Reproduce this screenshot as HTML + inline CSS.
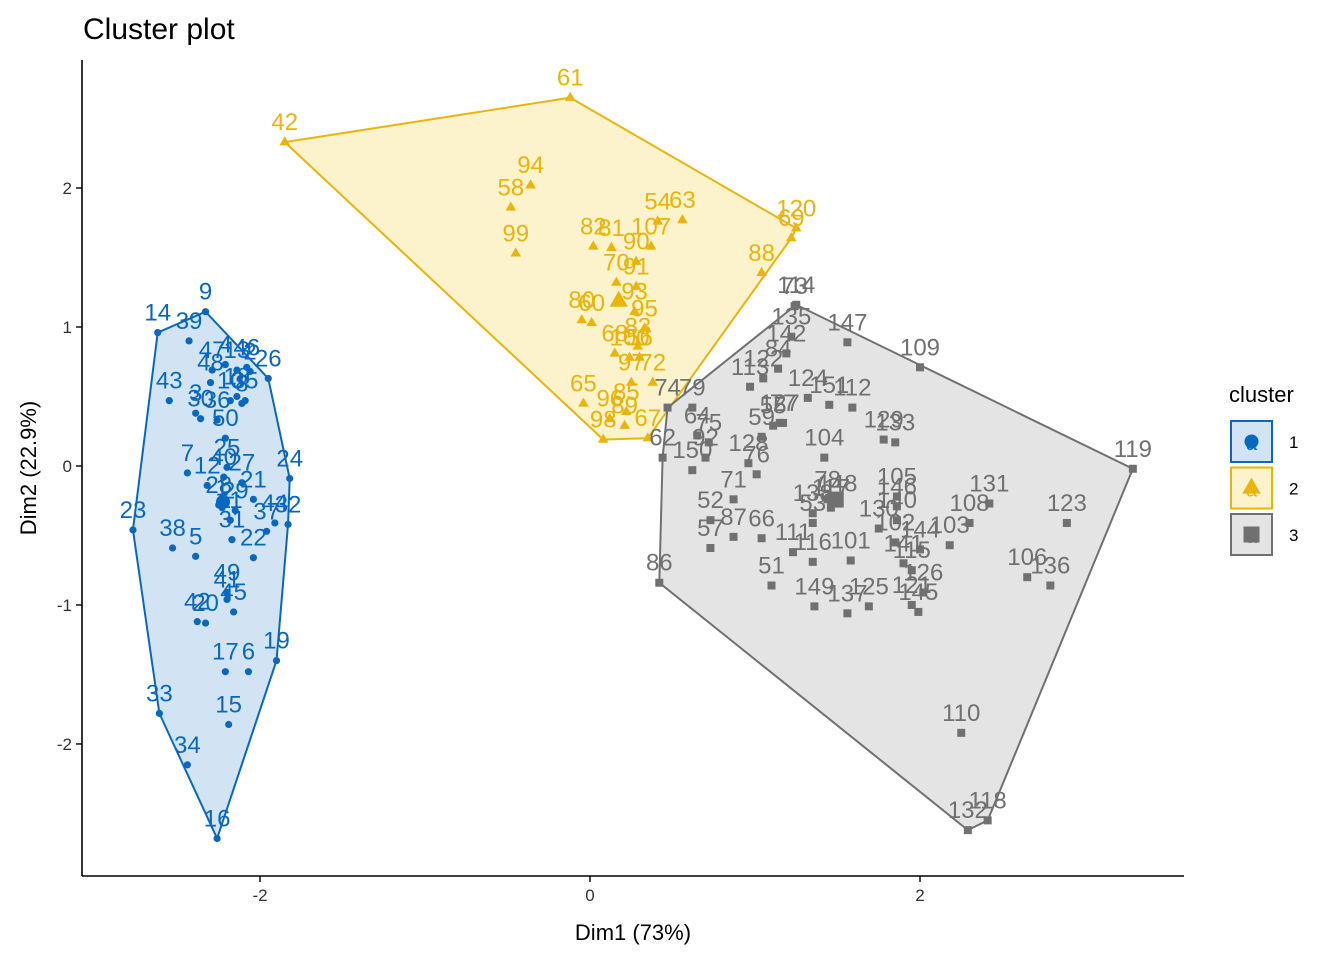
<!DOCTYPE html>
<html><head><meta charset="utf-8"><style>
body{margin:0;background:#fff;}
svg{display:block;font-family:"Liberation Sans",Arial,sans-serif;}
</style></head><body>
<svg id="chart" width="1344" height="960">
<text x="83" y="39" font-size="30" fill="#000">Cluster plot</text>
</svg>
<script>
const cluster1Labels=[1,2,3,4,5,6,7,8,9,10,11,12,13,14,15,16,17,18,19,20,21,22,23,24,25,26,27,28,29,30,31,32,33,34,35,36,37,38,39,40,41,42,43,44,45,46,47,48,49,50];
const cluster1X=[-2.23,-2.06,-2.39,-2.21,-2.39,-2.07,-2.44,-2.11,-2.33,-2.18,-2.18,-2.32,-2.14,-2.62,-2.19,-2.26,-2.21,-2.14,-1.90,-2.33,-2.04,-2.04,-2.77,-1.82,-2.20,-1.95,-2.11,-2.25,-2.15,-2.36,-2.17,-1.83,-2.61,-2.44,-2.09,-2.26,-1.96,-2.53,-2.43,-2.22,-2.20,-2.38,-2.55,-1.91,-2.16,-2.08,-2.29,-2.30,-2.20,-2.21];
const cluster1Y=[-0.30,0.68,0.38,0.73,-0.65,-1.48,-0.05,0.45,1.11,0.47,-0.39,-0.14,0.69,0.96,-1.86,-2.68,-1.48,0.50,-1.40,-1.13,-0.24,-0.66,-0.46,-0.09,-0.01,0.63,-0.12,-0.28,-0.32,0.34,-0.53,-0.42,-1.78,-2.15,0.47,0.33,-0.47,-0.59,0.90,-0.08,-0.96,-1.12,0.47,-0.41,-1.05,0.71,0.69,0.60,-0.91,0.20];
const cluster2Labels=[42,61,120,69,88,94,58,99,82,81,107,54,63,70,90,91,80,60,93,95,83,68,100,56,97,85,89,96,65,98,67,72];
const cluster2X=[-1.85,-0.12,1.25,1.22,1.04,-0.36,-0.48,-0.45,0.02,0.13,0.37,0.41,0.56,0.16,0.28,0.28,-0.05,0.01,0.27,0.33,0.29,0.15,0.24,0.30,0.25,0.22,0.21,0.12,-0.04,0.08,0.35,0.38];
const cluster2Y=[2.33,2.65,1.71,1.64,1.39,2.02,1.86,1.53,1.58,1.57,1.58,1.76,1.77,1.32,1.47,1.29,1.05,1.03,1.11,0.99,0.86,0.81,0.78,0.78,0.60,0.39,0.29,0.34,0.45,0.19,0.20,0.60];
const cluster3Labels=[114,73,147,109,119,123,131,108,106,136,110,118,132,86,62,135,142,84,122,124,151,112,129,133,113,127,55,77,104,79,74,64,75,92,150,59,128,76,71,66,87,52,57,51,53,138,78,148,117,111,116,101,149,137,125,140,146,105,102,144,141,103,126,145,121,115,130];
const cluster3X=[1.25,1.24,1.56,2.00,3.29,2.89,2.42,2.30,2.65,2.79,2.25,2.41,2.29,0.42,0.44,1.22,1.19,1.14,1.05,1.32,1.45,1.59,1.78,1.85,0.97,1.15,1.11,1.17,1.42,0.62,0.47,0.65,0.72,0.70,0.62,1.04,0.96,1.01,0.87,1.04,0.87,0.73,0.73,1.10,1.35,1.35,1.44,1.50,1.46,1.23,1.35,1.58,1.36,1.56,1.69,1.86,1.86,1.86,1.85,2.00,1.90,2.18,2.02,1.99,1.95,1.95,1.75];
const cluster3Y=[1.16,1.15,0.89,0.71,-0.02,-0.41,-0.27,-0.41,-0.80,-0.86,-1.92,-2.55,-2.62,-0.84,0.06,0.93,0.81,0.70,0.63,0.49,0.44,0.42,0.19,0.17,0.57,0.31,0.29,0.31,0.06,0.42,0.42,0.22,0.17,0.06,-0.03,0.21,0.02,-0.06,-0.24,-0.52,-0.51,-0.39,-0.59,-0.86,-0.41,-0.34,-0.24,-0.27,-0.30,-0.62,-0.69,-0.68,-1.01,-1.06,-1.01,-0.39,-0.29,-0.22,-0.55,-0.60,-0.70,-0.57,-0.91,-1.05,-1.00,-0.75,-0.45];
const xTicks=[-2,0,2];
const yTicks=[-2,-1,0,1,2];
const legendLabels=["1","2","3"];

const NS="http://www.w3.org/2000/svg";
const svg=document.getElementById('chart');
const L=82,R=1184,T=60,B=876;
const xMin=-3.0788,xMax=3.6,yMin=-2.95,yMax=2.921;
const sx=v=>L+(v-xMin)/(xMax-xMin)*(R-L);
const sy=v=>B-(v-yMin)/(yMax-yMin)*(B-T);
function mk(tag,attrs,parent){const e=document.createElementNS(NS,tag);for(const k in attrs)e.setAttribute(k,attrs[k]);(parent||svg).appendChild(e);return e;}
function hull(pts){pts=pts.slice().sort((a,b)=>a[0]-b[0]||a[1]-b[1]);const cr=(o,a,b)=>(a[0]-o[0])*(b[1]-o[1])-(a[1]-o[1])*(b[0]-o[0]);const lo=[],up=[];for(const p of pts){while(lo.length>=2&&cr(lo[lo.length-2],lo[lo.length-1],p)<=0)lo.pop();lo.push(p);}for(const p of pts.slice().reverse()){while(up.length>=2&&cr(up[up.length-2],up[up.length-1],p)<=0)up.pop();up.push(p);}return lo.slice(0,-1).concat(up.slice(0,-1));}

const clusters=[
 {labels:cluster1Labels,xs:cluster1X,ys:cluster1Y,col:"#0868C0",fill:"rgba(8,104,192,0.18)",shape:"circle"},
 {labels:cluster2Labels,xs:cluster2X,ys:cluster2Y,col:"#EBB40C",fill:"rgba(239,192,0,0.2)",shape:"tri"},
 {labels:cluster3Labels,xs:cluster3X,ys:cluster3Y,col:"#707070",fill:"rgba(120,120,120,0.2)",shape:"sq"}];

function marker(shape,x,y,s,col,g){
 let e;
 if(shape==="circle")e=mk('circle',{cx:x,cy:y,r:s,fill:col},g);
 else if(shape==="tri")e=mk('polygon',{points:`${x},${y-s*1.3} ${x-s*1.15},${y+s*0.7} ${x+s*1.15},${y+s*0.7}`,fill:col},g);
 else e=mk('rect',{x:x-s,y:y-s,width:2*s,height:2*s,fill:col},g);
 return e;
}

clusters.forEach((c,i)=>{
 const pts=c.xs.map((x,j)=>[sx(x),sy(c.ys[j])]);
 const h=hull(pts);
 const p=mk('polygon',{points:h.map(q=>q.join(',')).join(' '),fill:c.fill,stroke:c.col,'stroke-width':2});
 
 
});
clusters.forEach((c,i)=>{
 const g=mk('g',{});
 
 
 const s=c.shape==="circle"?3.6:c.shape==="tri"?4.6:4;
 c.xs.forEach((x,j)=>{
  const m=marker(c.shape,sx(x),sy(c.ys[j]),s,c.col,g);
  
  
  const t=mk('text',{x:sx(x),y:sy(c.ys[j])-12,'text-anchor':'middle','font-size':24,fill:c.col},g);
  t.textContent=c.labels[j];
  
  
 });
 const mx=c.xs.reduce((a,b)=>a+b,0)/c.xs.length,my=c.ys.reduce((a,b)=>a+b,0)/c.ys.length;
 const cm=marker(c.shape,sx(mx),sy(my),c.shape==="circle"?7:8,c.col,g);
 
 
});
const ax=mk('line',{x1:L,y1:B,x2:R,y2:B,stroke:'#000','stroke-width':1.6});

const ay=mk('line',{x1:L,y1:T,x2:L,y2:B,stroke:'#000','stroke-width':1.6});

xTicks.forEach(v=>{
 const tk=mk('line',{x1:sx(v),y1:B,x2:sx(v),y2:B+6,stroke:'#000','stroke-width':1.4});
 
 const t=mk('text',{x:sx(v),y:B+25,'text-anchor':'middle','font-size':17,fill:'#333'});
 t.textContent=v;
});
yTicks.forEach(v=>{
 const tk=mk('line',{x1:L-6,y1:sy(v),x2:L,y2:sy(v),stroke:'#000','stroke-width':1.4});
 
 const t=mk('text',{x:L-10,y:sy(v)+6,'text-anchor':'end','font-size':17,fill:'#333'});
 t.textContent=v;
});
const xt=mk('text',{x:633,y:940,'text-anchor':'middle','font-size':22,fill:'#000'});
xt.textContent='Dim1 (73%)';
const yt=mk('text',{x:0,y:0,'text-anchor':'middle','font-size':22,fill:'#000',transform:'translate(36,468) rotate(-90)'});
yt.textContent='Dim2 (22.9%)';
const lg=mk('g',{});

const lt=mk('text',{x:1229,y:402,'font-size':22,fill:'#000'},lg);
lt.textContent='cluster';
legendLabels.forEach((lab,i)=>{
 const c=clusters[i];const y0=421+i*46.5;
 const e=mk('g',{},lg);
 
 mk('rect',{x:1231,y:y0,width:41,height:41,fill:'#fff'},e);
 mk('rect',{x:1231,y:y0,width:41,height:41,fill:c.fill,stroke:c.col,'stroke-width':2},e);
 const tx=mk('text',{x:1251.5,y:y0+29,'text-anchor':'middle','font-size':20,fill:c.col},e);tx.textContent='a';
 marker(c.shape,1251.5,y0+20.5,c.shape==="circle"?7:8,c.col,e);
 const t=mk('text',{x:1289,y:y0+27,'font-size':17,fill:'#000'},e);t.textContent=lab;
});
</script>
</body></html>
